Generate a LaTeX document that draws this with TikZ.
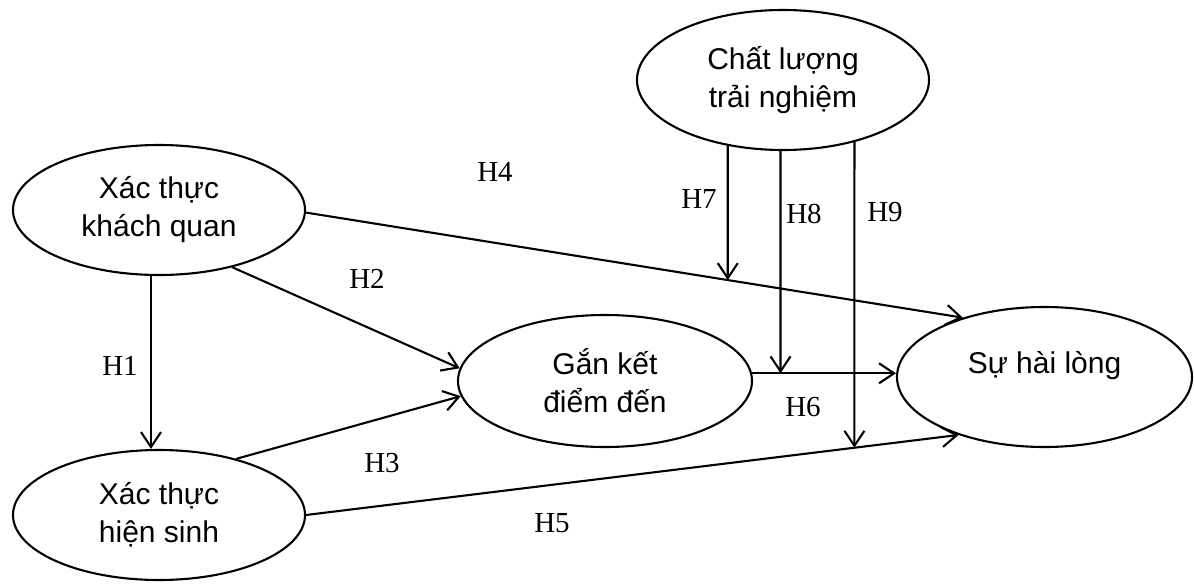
\documentclass[tikz,border=0pt]{standalone}
\usepackage{fontspec}
\setmainfont{Liberation Serif}
\newfontfamily\sansf{Liberation Sans}
\usetikzlibrary{arrows.meta,shapes.geometric,intersections}
\begin{document}
\begin{tikzpicture}[x=1pt,y=-1pt,
  ell/.style={ellipse,draw,line width=2.1pt,inner sep=0pt,align=center,
    font=\sansf\fontsize{30}{38}\selectfont},
  arr/.style={line width=2.1pt,-{Straight Barb[length=15pt,width=20pt]}},
  hlab/.style={font=\fontsize{29}{34}\selectfont,inner sep=0pt}]
\useasboundingbox (0,0) rectangle (1194,588);

\node[ell,minimum width=292pt,minimum height=140pt] (clq) at (783,80) {Chất lượng\\trải nghiệm};
\node[ell,minimum width=292pt,minimum height=130pt,yshift=0pt] (kq) at (159,210) {Xác thực\\khách quan};
\node[ell,minimum width=294pt,minimum height=132pt] (gk) at (605,381) {Gắn kết\\điểm đến};
\node[ell,minimum width=295pt,minimum height=140pt,text depth=30pt] (hl) at (1044.5,377) {Sự hài lòng};
\node[ell,minimum width=292pt,minimum height=130pt] (hs) at (159,515) {Xác thực\\hiện sinh};

% main paths
\draw[arr] ([xshift=-8pt]kq.south) -- ([xshift=-8pt]hs.north);
\draw[arr] (kq.-38) -- (gk.175);
\draw[arr] (hs.36) -- (gk.186.4);
\draw[arr,name path=p4] (kq.-1) -- (hl.144.5);
\draw[arr,name path=p5] (hs.east) -- (hl.214.7);
\draw[arr,name path=p6] (gk.3) -- (gk.3 -| hl.west);

% moderation paths
\path[name path=v7] (clq.230.8) -- ++(0,400);
\path[name path=v8] (clq.268) -- ++(0,400);
\path[name path=v9] (clq.-41.9) -- ++(0,400);
\path[name intersections={of=p4 and v7,by=i7}];
\path[name intersections={of=p6 and v8,by=i8}];
\path[name intersections={of=p5 and v9,by=i9}];
\draw[arr] (clq.230.8) -- (i7);
\draw[arr] (clq.268) -- (i8);
\draw[arr] (clq.-41.9) -- (i9);

% labels
\node[hlab] (l1) at (120,366) {H1};
\node[hlab] (l2) at (367,279) {H2};
\node[hlab] (l3) at (382,463) {H3};
\node[hlab] (l4) at (495,172) {H4};
\node[hlab] (l5) at (552,523) {H5};
\node[hlab] (l6) at (803,407) {H6};
\node[hlab] (l7) at (699,199) {H7};
\node[hlab] (l8) at (804,214) {H8};
\node[hlab] (l9) at (885,212) {H9};
\end{tikzpicture}
\end{document}
